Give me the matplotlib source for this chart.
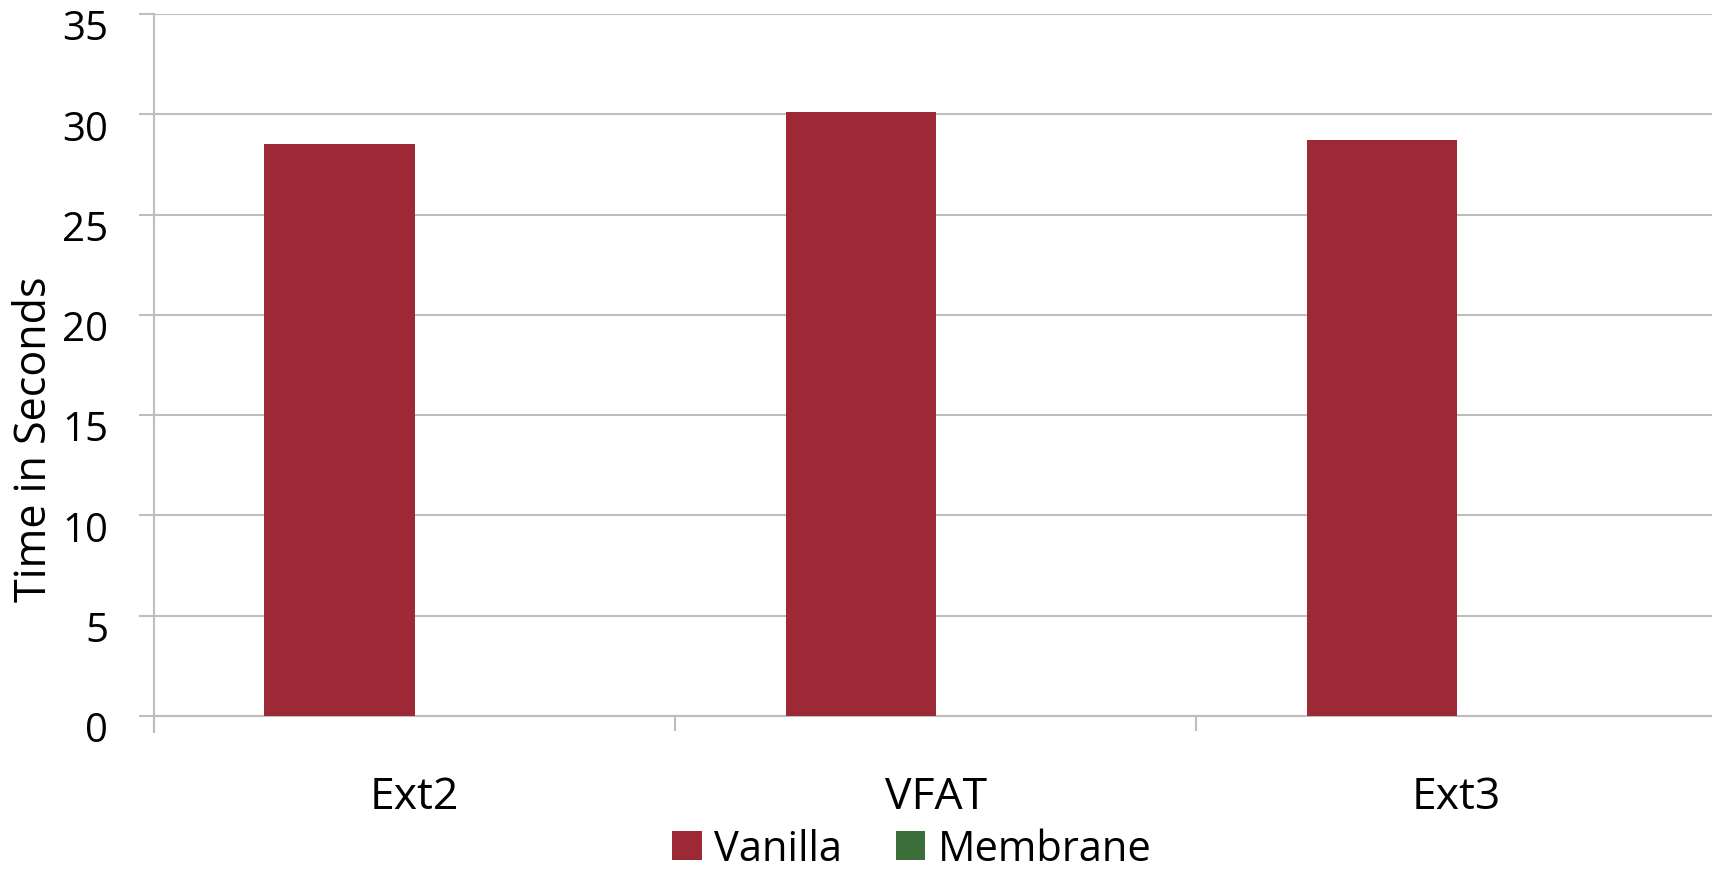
import numpy as np
import matplotlib
matplotlib.use('Agg')
import matplotlib.pyplot as plt
from matplotlib.transforms import ScaledTranslation

plt.rcParams['font.family'] = ['Open Sans', 'DejaVu Sans']

# data
categories = ['Ext2', 'VFAT', 'Ext3']
vanilla = [28.5, 30.1, 28.7]
membrane = [0, 0, 0]          # no visible bars for Membrane
yticks = [0, 5, 10, 15, 20, 25, 30, 35]

red = '#9e2936'
green = '#3c6e3a'
grid_col = '#bdbdbd'

fig = plt.figure(figsize=(17.12, 8.70), dpi=100)
ax = fig.add_axes([154/1712, 153/870, 1 - 154/1712, 702/870])

x = np.arange(len(categories))
w = 0.288
ax.bar(x - w/2, vanilla, width=w, color=red, linewidth=0, label='Vanilla', zorder=3)
ax.bar(x + w/2, membrane, width=w, color=green, linewidth=0, label='Membrane', zorder=3)

ax.set_xlim(-0.5, 2.49)
ax.set_ylim(0, 35)
ax.set_yticks(yticks)
ax.yaxis.grid(True, color=grid_col, linewidth=1.5, zorder=0)
ax.tick_params(axis='y', length=11, width=1.5, color=grid_col, labelsize=29, pad=22)

# category separators as minor ticks, labels on the major positions
ax.set_xticks(x)
ax.set_xticklabels(categories)
ax.set_xticks([-0.5, 0.5, 1.5], minor=True)
ax.tick_params(axis='x', which='major', length=0, labelsize=32, pad=42)
ax.tick_params(axis='x', which='minor', length=11, width=1.5, color=grid_col)

for s in ['top', 'right']:
    ax.spines[s].set_visible(False)
ax.spines['left'].set_color(grid_col)
ax.spines['left'].set_linewidth(1.5)
ax.spines['bottom'].set_color(grid_col)
ax.spines['bottom'].set_linewidth(1.5)
ax.spines['left'].set_bounds(-0.8, 35)

# old-style numerals sit lower in the original
off = ScaledTranslation(0, -10/100, fig.dpi_scale_trans)
for lab in ax.get_yticklabels():
    lab.set_transform(lab.get_transform() + off)

ax.set_ylabel('Time in Seconds', fontsize=31)
ax.yaxis.set_label_coords(-0.062, 0.395)

fig.legend(loc='center', bbox_to_anchor=(912/1712, 1 - 850/870), ncol=2, frameon=False,
           fontsize=30, handlelength=0.7, handleheight=0.7, handletextpad=0.3,
           columnspacing=1.3, borderpad=0)

fig.savefig('out.png', dpi=100)
